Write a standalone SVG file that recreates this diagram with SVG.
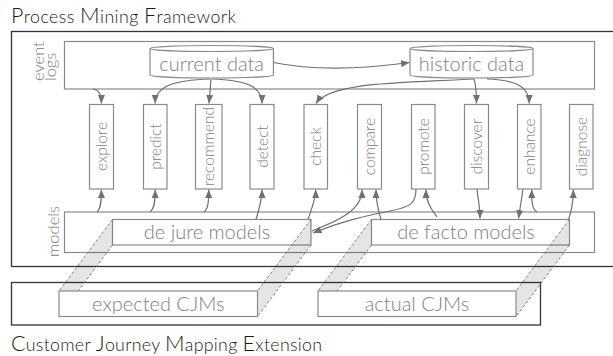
<svg xmlns="http://www.w3.org/2000/svg" width="613" height="356" viewBox="0 0 613 356">
<defs>
<marker id="ah" markerWidth="9" markerHeight="8" refX="8.5" refY="4" orient="auto" markerUnits="userSpaceOnUse"><path d="M0,0.5 L8.5,4 L0,7.5 z" fill="#707070"/></marker>
</defs>
<style>
.frame{fill:none;stroke:#333;stroke-width:1.3}
.box{fill:#fff;stroke:#8a8a8a;stroke-width:1.2}
.lane{fill:none;stroke:#8a8a8a;stroke-width:1.2}
.lbl{font-family:Lato,"Open Sans",sans-serif;fill:#808080;font-weight:300}
.t15{font-size:15.5px}
.t16{font-size:16.5px}
.t20{font-size:20px}
.mid{text-anchor:middle}
.title{font-family:Lato,"Open Sans",sans-serif;fill:#1a1a1a;font-weight:300}
.cap{font-size:21.5px}
.low{font-size:17.8px}
.face{fill:#000;fill-opacity:0.1;stroke:none}
.dash{stroke:#777;stroke-width:0.9;stroke-dasharray:3 2;fill:none}
.conn path{fill:none;stroke:#707070;stroke-width:1.2;marker-end:url(#ah)}
</style>
<rect width="613" height="356" fill="#fff"/>

<g id="pm-framework">
<rect class="frame" x="11.5" y="31.5" width="620" height="235"/>
<text class="title" x="11" y="23" textLength="225" lengthAdjust="spacing"><tspan class="cap">P</tspan><tspan class="low">rocess </tspan><tspan class="cap">M</tspan><tspan class="low">ining </tspan><tspan class="cap">F</tspan><tspan class="low">ramework</tspan></text>
</g>
<g id="cjm-extension">
<rect class="frame" x="11.5" y="282.5" width="529" height="42.5"/>
<text class="title" x="11" y="351" textLength="311" lengthAdjust="spacing"><tspan class="cap">C</tspan><tspan class="low">ustomer </tspan><tspan class="cap">J</tspan><tspan class="low">ourney </tspan><tspan class="cap">M</tspan><tspan class="low">apping </tspan><tspan class="cap">E</tspan><tspan class="low">xtension</tspan></text>
</g>

<g id="event-logs">
<rect class="lane" x="64.5" y="41.5" width="530" height="47.5"/>
<text class="lbl t16" transform="translate(43.5,81) rotate(-90)">event</text>
<text class="lbl t16" transform="translate(55.5,81) rotate(-90)">logs</text>
</g>
<g id="models">
<rect class="lane" x="64.5" y="212" width="530" height="40.5"/>
<text class="lbl t16 mid" transform="translate(58.5,231.5) rotate(-90)">models</text>
</g>

<g id="connectors" class="conn">
<path d="M273.5,62.5 C320,72 370,68 409.5,62.5"/>
<path d="M93,89 C99,90 101.4,94 101.4,103.5"/>
<path d="M210,79 C175,80 155.2,86 155.2,103.5"/>
<path d="M211,79 L209,103.5"/>
<path d="M212,79 C245,80 262,86 262,103.5"/>
<path d="M474,79 C400,83 330,82 316,103.5"/>
<path d="M474,79 C476,85 476.5,92 476.5,103.5"/>
<path d="M487,79 C515,80 529.2,86 529.2,103.5"/>
<path d="M97,212 C100.5,209 101.4,203 101.4,189.5"/>
<path d="M150,212 C154,209 155.2,203 155.2,189.5"/>
<path d="M204,212 C208,209 208.7,203 208.7,189.5"/>
<path d="M256,219.5 C259,210 262,200 262,189.5"/>
<path d="M308,219.5 C311,210 315.7,200 315.7,189.5"/>
<path d="M312,231 C340,220 362,210 362,189.5"/>
<path d="M381,219.5 C378,210 376,200 376,189.5"/>
<path d="M416,189 C416,204 410,207 390,211 C360,217 340,222 313,233"/>
<path d="M437,217 C432,210 426,203 426,189.5"/>
<path d="M477,189 C478,200 480,205 480,218.5"/>
<path d="M523,189 L518.5,218.5"/>
<path d="M537,212 C532,209 531.7,202 531.7,189.5"/>
<path d="M568.5,219.5 C572,210 573.3,200 573.3,189.5"/>
</g>

<g id="current-data">
<path class="box" d="M150,48.5 V75 A61.7,3 0 0 0 273.4,75 V48.5 A61.7,3 0 0 0 150,48.5 A61.7,3 0 0 0 273.4,48.5"/>
<text class="lbl t20 mid" x="211.7" y="71">current data</text>
</g>
<g id="historic-data">
<path class="box" d="M410,48.5 V75 A61.5,3 0 0 0 533,75 V48.5 A61.5,3 0 0 0 410,48.5 A61.5,3 0 0 0 533,48.5"/>
<text class="lbl t20 mid" x="471.5" y="71">historic data</text>
</g>

<g id="explore"><rect class="box" x="89.5" y="104.5" width="24" height="84.5"/><text class="lbl t15 mid" transform="translate(107,146.5) rotate(-90)">explore</text></g>
<g id="predict"><rect class="box" x="143.5" y="104.5" width="23.5" height="84.5"/><text class="lbl t15 mid" transform="translate(160.7,146.5) rotate(-90)">predict</text></g>
<g id="recommend"><rect class="box" x="195.5" y="104.5" width="26.5" height="84.5"/><text class="lbl t15 mid" transform="translate(214.2,146.5) rotate(-90)">recommend</text></g>
<g id="detect"><rect class="box" x="250" y="104.5" width="24" height="84.5"/><text class="lbl t15 mid" transform="translate(267.5,146.5) rotate(-90)">detect</text></g>
<g id="check"><rect class="box" x="304" y="104.5" width="23.5" height="84.5"/><text class="lbl t15 mid" transform="translate(321.2,146.5) rotate(-90)">check</text></g>
<g id="compare"><rect class="box" x="357.5" y="104.5" width="24" height="84.5"/><text class="lbl t15 mid" transform="translate(375,146.5) rotate(-90)">compare</text></g>
<g id="promote"><rect class="box" x="411.5" y="104.5" width="23.5" height="84.5"/><text class="lbl t15 mid" transform="translate(428.7,146.5) rotate(-90)">promote</text></g>
<g id="discover"><rect class="box" x="464.5" y="104.5" width="24" height="84.5"/><text class="lbl t15 mid" transform="translate(482,146.5) rotate(-90)">discover</text></g>
<g id="enhance"><rect class="box" x="517.5" y="104.5" width="23.5" height="84.5"/><text class="lbl t15 mid" transform="translate(534.7,146.5) rotate(-90)">enhance</text></g>
<g id="diagnose"><rect class="box" x="569.5" y="104.5" width="23.5" height="84.5"/><text class="lbl t15 mid" transform="translate(586.7,146.5) rotate(-90)">diagnose</text></g>

<g id="de-jure-models"><rect class="box" x="112.5" y="219.5" width="198.5" height="25.5"/><text class="lbl t20 mid" x="207" y="238.5">de jure models</text></g>
<g id="de-facto-models"><rect class="box" x="371.5" y="219.5" width="198" height="25.5"/><text class="lbl t20 mid" x="466" y="238.5">de facto models</text></g>

<g id="extrusions">
<polygon class="face" points="112.5,219.5 112.5,245 59,316.5 59,291"/>
<polygon class="face" points="311,219.5 311,245 257.5,316.5 257.5,291"/>
<polygon class="face" points="371.5,219.5 371.5,245 318,316.5 318,291"/>
<polygon class="face" points="569.5,219.5 569.5,245 516,316.5 516,291"/>
<path class="dash" d="M112.5,219.5 L59,291 M112.5,245 L59,316.5 M311,219.5 L257.5,291 M311,245 L257.5,316.5 M371.5,219.5 L318,291 M371.5,245 L318,316.5 M569.5,219.5 L516,291 M569.5,245 L516,316.5"/>
</g>

<g id="expected-cjms"><rect class="box" x="59" y="291" width="198.5" height="25.5"/><text class="lbl t20 mid" x="158.3" y="310.5">expected CJMs</text></g>
<g id="actual-cjms"><rect class="box" x="318" y="291" width="198" height="25.5"/><text class="lbl t20 mid" x="417" y="310.5">actual CJMs</text></g>
</svg>
